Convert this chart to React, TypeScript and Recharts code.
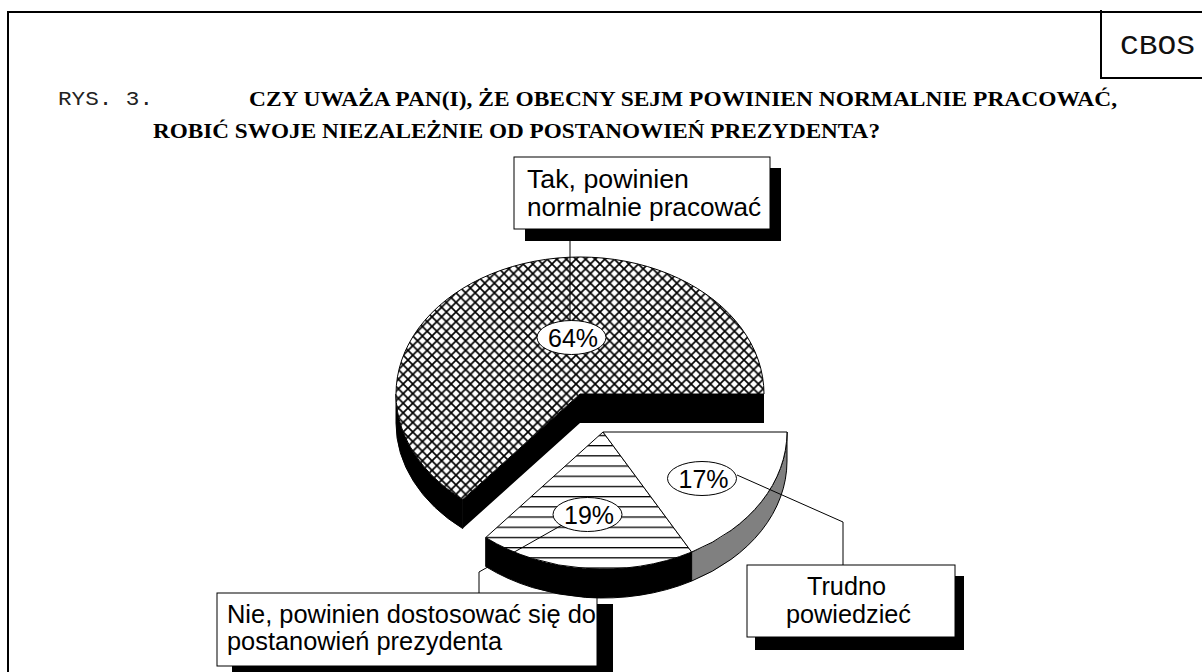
import React from 'react';
import { PieChart, Pie } from 'recharts';

const categories = ['Tak, powinien normalnie pracować', 'Nie, powinien dostosować się do postanowień prezydenta', 'Trudno powiedzieć'];
const values = [64, 19, 17];

const chartData = categories.map((name, i) => ({ name, value: values[i] }));

// pie is drawn flattened and pulled apart by hand, recharts only gives the angles
const TILT = 137 / 184;
const DEPTH = 29;
const explode = [[0, 0], [23, 38], [23, 38]];
const fills = ['url(#crossHatch)', 'url(#stripes)', '#ffffff'];
const wallFills = ['#000000', '#000000', '#808080'];

const labelSpots = [
  { x: 571.5, y: 337.5, leader: '570,229 570,322' },
  { x: 587.5, y: 514.5, leader: '562,525 479,572 479,593' },
  { x: 702, y: 478.5, leader: '737,475 843,522 843,565' },
];

const boxes = [
  {
    x: 514, y: 157, w: 256, h: 72, sx: 525, sy: 168, sw: 256, sh: 73, size: 26,
    lines: [
      { text: 'Tak, powinien', x: 527, y: 188, len: 162 },
      { text: 'normalnie pracować', x: 527, y: 216, len: 234 },
    ],
  },
  {
    x: 217, y: 593, w: 380, h: 73, sx: 232, sy: 604, sw: 381, sh: 68, size: 25,
    lines: [
      { text: 'Nie, powinien dostosować się do', x: 227, y: 623, len: 369 },
      { text: 'postanowień prezydenta', x: 227, y: 650, len: 275 },
    ],
  },
  {
    x: 747, y: 565, w: 208, h: 72, sx: 755, sy: 576, sw: 209, sh: 74, size: 26,
    lines: [
      { text: 'Trudno', x: 807, y: 595, len: 79 },
      { text: 'powiedzieć', x: 786, y: 623, len: 125 },
    ],
  },
];

const polar = (cx: number, cy: number, r: number, deg: number) => {
  const a = (deg * Math.PI) / 180;
  return [cx + r * Math.cos(a), cy - r * TILT * Math.sin(a)];
};

const SliceShape = (props: any) => {
  const { cx, cy, outerRadius: r, startAngle, endAngle, index } = props;
  const [ox, oy] = explode[index];
  const x0 = cx + ox;
  const y0 = cy + oy;
  const ry = r * TILT;
  const lo = Math.min(startAngle, endAngle);
  const hi = Math.max(startAngle, endAngle);
  const [x1, y1] = polar(x0, y0, r, lo);
  const [x2, y2] = polar(x0, y0, r, hi);
  const large = hi - lo > 180 ? 1 : 0;
  const top = `M${x0},${y0} L${x1},${y1} A${r},${ry} 0 ${large} 0 ${x2},${y2} Z`;

  // outer wall, only the part of the rim facing the viewer
  const wallLo = Math.max(lo, 180);
  const [wx1, wy1] = polar(x0, y0, r, wallLo);
  const [wx2, wy2] = polar(x0, y0, r, hi);
  const wall = `M${wx1},${wy1} A${r},${ry} 0 0 0 ${wx2},${wy2} L${wx2},${wy2 + DEPTH} A${r},${ry} 0 0 1 ${wx1},${wy1 + DEPTH} Z`;

  return (
    <g>
      {index === 0 && (
        <path
          d={`M${x1},${y1} L${x0},${y0} L${x2},${y2} L${x2},${y2 + DEPTH} L${x0},${y0 + DEPTH} L${x1},${y1 + DEPTH} Z`}
          fill="#000"
        />
      )}
      <path d={wall} fill={wallFills[index]} stroke="#000" strokeWidth={1} />
      <path d={top} fill="#fff" />
      <path d={top} fill={fills[index]} stroke="#000" strokeWidth={1} />
    </g>
  );
};

const PercentLabel = (props: any) => {
  const spot = labelSpots[props.index];
  return (
    <g>
      <polyline points={spot.leader} fill="none" stroke="#000" strokeWidth={1} />
      <ellipse cx={spot.x} cy={spot.y} rx={34.5} ry={17} fill="#fff" stroke="#000" strokeWidth={1} />
      <text x={spot.x + 1.5} y={spot.y + 9} textAnchor="middle" fontFamily="Liberation Sans" fontSize={26} textLength={50} lengthAdjust="spacingAndGlyphs" fill="#000">
        {props.value}%
      </text>
    </g>
  );
};

export default function App() {
  return (
    <div style={{ position: 'absolute', left: 0, top: 0, width: 1202, height: 672, background: '#fff', overflow: 'hidden' }}>
      <PieChart width={1202} height={672} margin={{ top: 0, right: 0, bottom: 0, left: 0 }}>
        <defs>
          <pattern id="crossHatch" patternUnits="userSpaceOnUse" width={9.6} height={9.6}>
            <rect width={9.6} height={9.6} fill="#fff" />
            <path d="M-1,-1 L10.6,10.6 M-1,10.6 L10.6,-1" stroke="#000" strokeWidth={1.7} />
          </pattern>
          <pattern id="stripes" patternUnits="userSpaceOnUse" width={10} height={10.2} patternTransform="translate(0,6.4)">
            <rect width={10} height={10.2} fill="#fff" />
            <rect x={0} y={0} width={10} height={1.3} fill="#000" />
          </pattern>
        </defs>

        <line x1={8} y1={12} x2={1202} y2={12} stroke="#000" strokeWidth={2} />
        <line x1={8} y1={11} x2={8} y2={672} stroke="#000" strokeWidth={2} />
        <line x1={1101} y1={10} x2={1101} y2={78} stroke="#000" strokeWidth={2} />
        <line x1={1100} y1={78} x2={1202} y2={78} stroke="#000" strokeWidth={2} />
        <text x={1120} y={54} fontFamily="Liberation Mono" fontSize={28} textLength={75} lengthAdjust="spacingAndGlyphs" fill="#111">
          CBOS
        </text>
        <text x={58} y={105} fontFamily="Liberation Mono" fontSize={21} textLength={95} lengthAdjust="spacingAndGlyphs" fill="#222">
          RYS. 3.
        </text>
        <text x={249} y={106} fontFamily="Liberation Serif" fontWeight="bold" fontSize={22} textLength={868} lengthAdjust="spacingAndGlyphs" fill="#000">
          CZY UWAŻA PAN(I), ŻE OBECNY SEJM POWINIEN NORMALNIE PRACOWAĆ,
        </text>
        <text x={153} y={138} fontFamily="Liberation Serif" fontWeight="bold" fontSize={22} textLength={727} lengthAdjust="spacingAndGlyphs" fill="#000">
          ROBIĆ SWOJE NIEZALEŻNIE OD POSTANOWIEŃ PREZYDENTA?
        </text>

        <Pie
          data={chartData}
          dataKey="value"
          nameKey="name"
          cx={580}
          cy={394}
          outerRadius={184}
          startAngle={0}
          endAngle={360}
          paddingAngle={0}
          stroke="none"
          shape={SliceShape}
          label={PercentLabel}
          labelLine={false}
          isAnimationActive={false}
        />

        {boxes.map(b => (
          <g key={b.lines[0].text}>
            <rect x={b.sx} y={b.sy} width={b.sw} height={b.sh} fill="#000" />
            <rect x={b.x} y={b.y} width={b.w} height={b.h} fill="#fff" stroke="#000" strokeWidth={1} />
            {b.lines.map(l => (
              <text key={l.text} x={l.x} y={l.y} fontFamily="Liberation Sans" fontSize={b.size} textLength={l.len} lengthAdjust="spacingAndGlyphs" fill="#000">
                {l.text}
              </text>
            ))}
          </g>
        ))}
      </PieChart>
    </div>
  );
}
